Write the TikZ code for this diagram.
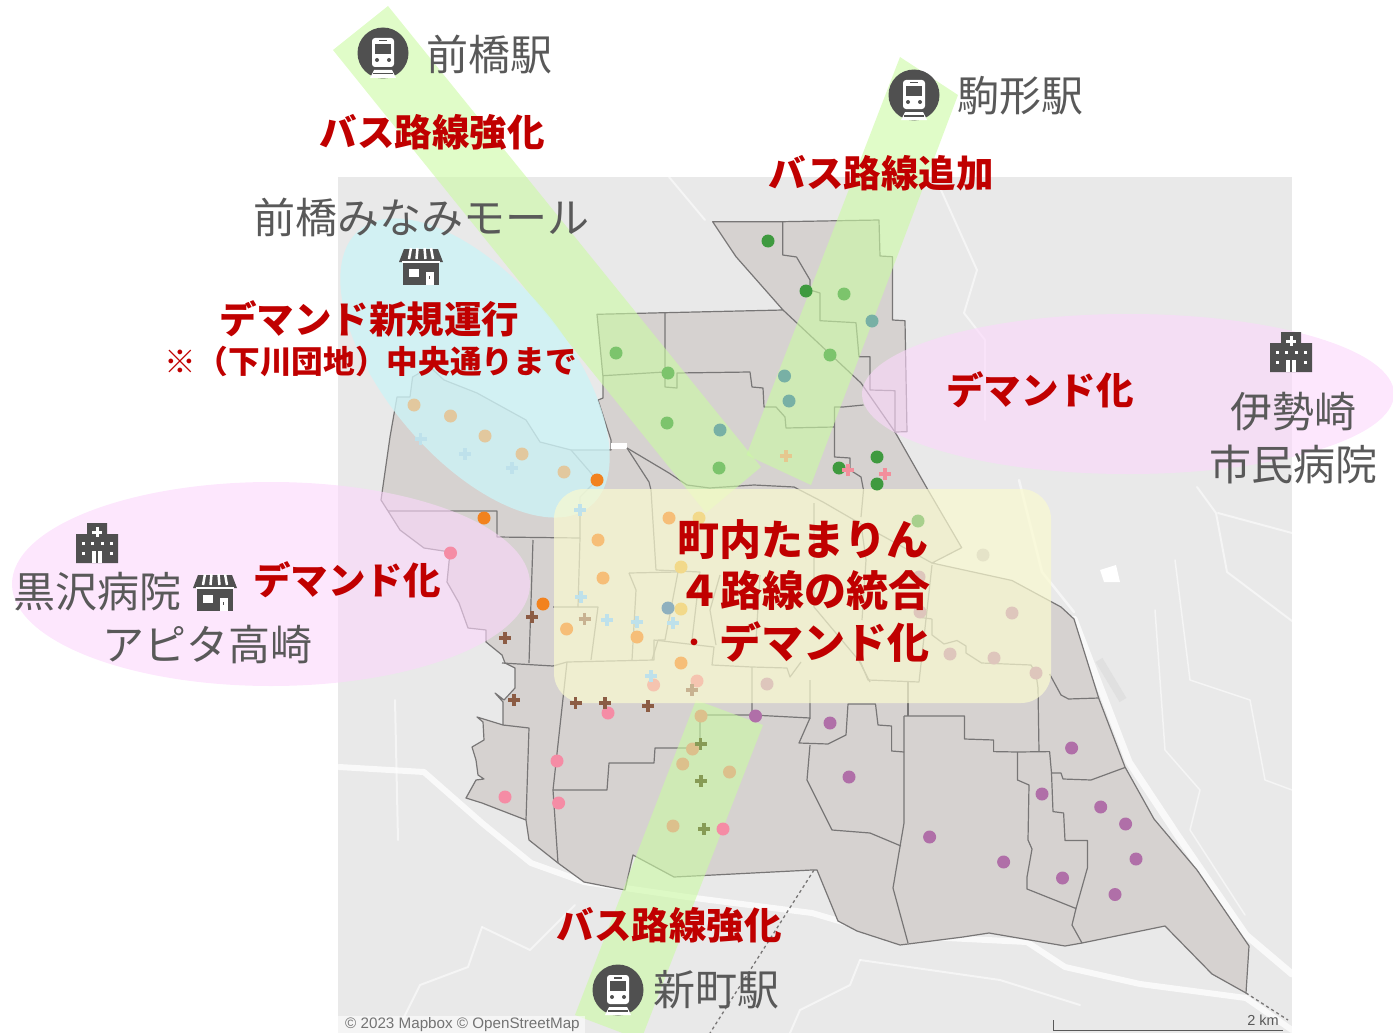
\documentclass[tikz,border=0pt]{standalone}
\usepackage{fontspec}
\setmainfont{Noto Sans CJK JP}
\newfontfamily\mapfont{Liberation Sans}

\definecolor{mapback}{RGB}{233,233,233}
\definecolor{mapland}{RGB}{214,210,208}
\definecolor{mapline}{RGB}{120,118,118}
\definecolor{icondark}{RGB}{80,80,80}
\definecolor{labelgrey}{RGB}{89,89,89}
\definecolor{redtext}{RGB}{192,0,0}
\definecolor{bandgreen}{RGB}{203,250,163}
\definecolor{areacyan}{RGB}{205,243,246}
\definecolor{areapink}{RGB}{252,215,252}
\definecolor{areayellow}{RGB}{250,250,208}
\definecolor{dotgreen}{RGB}{63,154,63}
\definecolor{dotleaf}{RGB}{124,196,108}
\definecolor{dotteal}{RGB}{120,176,165}
\definecolor{dotpalegreen}{RGB}{168,208,141}
\definecolor{dotpaleorange}{RGB}{226,200,158}
\definecolor{dotorange}{RGB}{242,130,30}
\definecolor{dotlight}{RGB}{246,190,120}
\definecolor{dotyellow}{RGB}{242,217,138}
\definecolor{dotslate}{RGB}{143,176,190}
\definecolor{dotpink}{RGB}{245,140,165}
\definecolor{dotblush}{RGB}{245,196,176}
\definecolor{dotmauve}{RGB}{222,198,188}
\definecolor{dotpale}{RGB}{229,227,200}
\definecolor{dotsand}{RGB}{220,192,140}
\definecolor{dotpurple}{RGB}{176,111,168}
\definecolor{plusblue}{RGB}{190,225,235}
\definecolor{plusbrown}{RGB}{140,92,68}
\definecolor{plustan}{RGB}{200,178,145}
\definecolor{plusolive}{RGB}{135,155,85}
\definecolor{pluspink}{RGB}{242,142,155}
\definecolor{plussand}{RGB}{229,200,143}

\tikzset{
  riverline/.style={draw=white,draw opacity=.75,line width=#1,line join=round,line cap=round},
  roadline/.style={draw=white,draw opacity=.55,line width=#1,line join=round,line cap=round},
  distline/.style={draw=mapline,line width=1.2pt,line join=round},
  greenband/.style={fill=bandgreen,fill opacity=.6},
  cyanarea/.style={fill=areacyan,fill opacity=.8},
  pinkarea/.style={fill=areapink,fill opacity=.6},
  yellowarea/.style={fill=areayellow,fill opacity=.7},
  plusmark/.style={line width=3.5pt},
  placelabel/.style={font=\fontsize{42}{50}\selectfont,text=labelgrey,inner sep=0pt},
  redlabel/.style={font=\fontsize{37.5}{45}\bfseries\selectfont,text=redtext,inner sep=0pt},
}

%train icon
\newcommand{\trainicon}[1]{
  \begin{scope}[shift={(#1)}]
    \fill [icondark] (0,0) circle [radius=25.5] ;
    \fill [white,rounded corners=3pt] (-11,-15) rectangle (11,14) ;
    \fill [icondark] (-8,-9) rectangle (8,1) ;
    \fill [icondark] (-4,-13) rectangle (4,-11.5) ;
    \fill [icondark] (-6,7) circle [radius=2] ;
    \fill [icondark] (6,7) circle [radius=2] ;
    \fill [white] (-9,17) -- (9,17) -- (13,25) -- (-13,25) -- cycle ;
    \fill [icondark] (-10,20) rectangle (10,21.5) ;
  \end{scope}
}
%hospital icon
\newcommand{\hospitalicon}[1]{
  \begin{scope}[shift={(#1)}]
    \fill [icondark] (-21,-9) -- (-10,-9) -- (-10,-20) -- (10,-20) -- (10,-9) -- (21,-9) -- (21,20) -- (-21,20) -- cycle ;
    \fill [white] (-1.5,-16) rectangle (1.5,-6) ;
    \fill [white] (-5,-12.5) rectangle (5,-9.5) ;
    \foreach \x in {-14,-5,5,14}
      \fill [white] (\x-1.5,-1) rectangle (\x+1.5,2) ;
    \foreach \x in {-14,14}
      \fill [white] (\x-1.5,9) rectangle (\x+1.5,12) ;
    \fill [white] (-5,8) rectangle (5,20) ;
    \fill [icondark] (-1,8) rectangle (1,20) ;
  \end{scope}
}
%shop icon
\newcommand{\shopicon}[1]{
  \begin{scope}[shift={(#1)}]
    \fill [icondark] (-17,-18) -- (17,-18) -- (22,-5) -- (-22,-5) -- cycle ;
    \foreach \x/\y in {-10/-12,-3.5/-4.5,3.5/4.5,10/12}
      \draw [white,line width=2.5pt] (\x,-19) -- (\y,-8) ;
    \fill [icondark] (-18,-7) rectangle (18,18) ;
    \fill [white] (-19,-6.5) rectangle (19,-4) ;
    \fill [white] (-12,2) rectangle (-2,10) ;
    \fill [white] (5,5) rectangle (13,18) ;
    \fill [icondark] (8,9) rectangle (9,12) ;
  \end{scope}
}

\begin{document}
\begin{tikzpicture}[x=1pt,y=-1pt]
\useasboundingbox (0,0) rectangle (1393,1033) ;

%map background
\fill [mapback] (338,177) rectangle (1292,1033) ;

%roads and rivers
\draw [riverline=6pt] (339,767) -- (424,772) -- (482,823) -- (531,863) -- (584,882) -- (687,897) -- (812,913) -- (887,935) -- (1027,942) -- (1065,967) -- (1140,984) -- (1246,998) -- (1292,1030) ;
\draw [riverline=7pt] (1074,619) -- (1129,762) -- (1178,836) -- (1246,935) -- (1292,974) ;
\draw [roadline=2.5pt] (1019,480) -- (1042,572) -- (1074,612) ;
\draw [roadline=2pt] (669,177) -- (705,220) ;
\draw [roadline=2pt] (941,190) -- (977,270) -- (964,313) -- (985,340) -- (985,420) ;
\draw [roadline=2pt] (1197,487) -- (1216,513) -- (1227,572) -- (1292,621) ;
\draw [roadline=2pt] (1218,513) -- (1292,533) ;
\draw [roadline=1.5pt] (1155,610) -- (1165,750) -- (1200,790) -- (1190,830) -- (1245,915) ;
\draw [roadline=1.5pt] (1175,560) -- (1190,680) -- (1250,700) -- (1265,780) -- (1292,790) ;
\draw [roadline=2pt] (482,927) -- (468,967) -- (420,985) -- (400,1025) ;
\draw [roadline=2pt] (482,927) -- (530,950) -- (575,905) ;
\draw [roadline=2pt] (860,960) -- (850,985) -- (800,1010) -- (790,1033) ;
\draw [roadline=2pt] (860,960) -- (1000,980) -- (1080,1005) ;
\draw [roadline=2pt] (395,700) -- (398,840) ;
\fill [white] (1100,570) -- (1116,565) -- (1120,582) -- (1104,582) -- cycle ;
\draw [line width=8pt,draw=black!12] (1099,660) -- (1123,700) ;
\draw [dashed,line width=1.3pt,draw=mapline] (814,870) -- (710,1033) ;
\draw [dashed,line width=1.3pt,draw=mapline] (1246,993) -- (1288,1020) ;

%map land and outer edge
\path [fill=mapland,distline] (712.6,221.7) -- (782.7,221.7) -- (879,220) -- (880,256) -- (892.5,256.7) -- (892.5,320) -- (905,320.7) -- (907,431.7) -- (895,432)
  -- (928,490) -- (961.7,547.7) -- (932,563) -- (1012,580.5) -- (1061,607) -- (1074,619) -- (1099,699) -- (1125,767) -- (1154,819) -- (1197,870) -- (1249,946)
  -- (1246,993) -- (1212,974) -- (1165,926) -- (1082,943) -- (1065,946) -- (989,933) -- (963,937) -- (908,944) -- (900,945) -- (857,931) -- (838,921) -- (817,870)
  -- (812,870) -- (674,877) -- (633,855) -- (625,890) -- (584,882) -- (558,863) -- (529,840) -- (526,820) -- (482,803) -- (466,798) -- (476,780) -- (484,779) -- (478,775)
  -- (476,760) -- (472,747) -- (484,740) -- (483,722) -- (477,717) -- (503,725) -- (503,702) -- (495,693) -- (504,700) -- (515,688) -- (515,668) -- (505,663) -- (502,655) -- (486,642) -- (486,630)
  -- (468,628) -- (459,603) -- (447,582) -- (450,552) -- (424,548) -- (400,530) -- (388,511) -- (381,500) -- (390,437) -- (397,397) -- (410,397) -- (412.6,377)
  -- (430,367) -- (444,380) -- (477,393) -- (526,420) -- (540,442) -- (571,450) -- (611,450) -- (611,440) -- (598,400) -- (603,398) -- (603,377) -- (597,314.3)
  -- (665,312.7) -- (783,310) -- (736,256.7) -- cycle ;
\fill [white] (611,443) rectangle (627,449) ;

%district lines north
\draw [distline] (782.7,221.7) -- (782.7,255) -- (796.5,257) -- (810,280) -- (810,290) -- (820,293) -- (820,320.7) -- (856,322.7) -- (859,356.7) -- (870,356.7) -- (870,390) -- (895,390.7) -- (895,432) ;
\draw [distline] (783,310) -- (861,383) -- (895,432) ;
\draw [distline] (665,312.7) -- (665,387) -- (677,388) -- (677,373) -- (750,372) -- (752,387) -- (763,388) -- (764,407) -- (776,407) -- (785,417) -- (786,428) -- (834.5,427) -- (834.5,407) -- (843,407) -- (863.5,405) ;
\draw [distline] (603,375.7) -- (665,372) ;
\draw [distline] (834.5,427) -- (834.5,457) -- (850,458) -- (850,470) -- (861,477) -- (863.5,490) -- (861,517) ;
\draw [distline] (627,448) -- (649,482) -- (651,490) -- (656,570) ;
\draw [distline] (627,448) -- (669,473) -- (687,485) -- (709.5,488) -- (754,485) -- (794,487) -- (823,502) -- (861,524) -- (932,563) ;
\draw [distline] (388,511) -- (497,511) -- (497,537) -- (580,538) -- (580,497) -- (597,480) -- (571,450) ;

%district lines middle
\draw [distline] (533,540) -- (531,602) -- (529,663) ;
\draw [distline] (502,663) -- (553,666) -- (567,662) -- (654,660) -- (654,640) -- (714,647) -- (712,665) -- (752,667) -- (787,668) -- (790,677) -- (801,662) ;
\draw [distline] (567,662) -- (553,790) -- (558,863) ;
\draw [distline] (553,607) -- (598,607) -- (591,660) ;
\draw [distline] (580,538) -- (578,607) ;
\draw [distline] (629,573) -- (678,572) -- (665,640) -- (658,640) -- (652,660) ;
\draw [distline] (629,573) -- (636,590) -- (632,660) ;
\draw [distline] (656,570) -- (700,572) -- (692,640) ;
\draw [distline] (720,575) -- (710,610) -- (716,645) ;
\draw [distline] (760,575) -- (756,640) ;
\draw [distline] (814,503) -- (814,607) -- (861,663) -- (868,680) -- (919,682) -- (932,565) ;
\draw [distline] (861,524) -- (866,560) -- (862,620) ;
\draw [distline] (858.6,660) -- (870,682) ;
\draw [distline] (932,619) -- (932,635) -- (944,644) -- (957,640.5) -- (966,646) -- (966,653) -- (981.5,663) -- (1031,665) -- (1036,674) -- (1038,688) -- (1039,751.6) ;
\draw [distline] (921,617.5) -- (932,619) ;
\draw [distline] (1049.6,674) -- (1061,695) -- (1068.5,699) -- (1099,698) ;

%district lines south
\draw [distline] (553,790) -- (607,790) -- (609,763) -- (654,763) -- (655,748) -- (700,748) -- (700,715) -- (752,715) -- (752,667) ;
\draw [distline] (752,715) -- (810,718) -- (810,680) ;
\draw [distline] (810,718) -- (799,743) -- (828,744) -- (846,735) -- (848,704) -- (875.5,704) -- (878,725) -- (891.6,726) -- (891.6,751) -- (904,752) ;
\draw [distline] (810,745) -- (807,780) -- (832,830) -- (870,833) -- (901,846) ;
\draw [distline] (908,682) -- (908,716) ;
\draw [distline] (904,716) -- (964.5,716) -- (964.5,739) -- (993.6,740) -- (993.6,751.6) -- (1017.5,752) -- (1049.6,751.6) -- (1051.5,773) -- (1061,773) -- (1063,779) -- (1091,780) -- (1125,767.5) ;
\draw [distline] (904,716) -- (904,823) -- (893,888) -- (908,943) ;
\draw [distline] (1017.5,752) -- (1017.5,780) -- (1029,785) -- (1028,840) -- (1032,849) -- (1027,877) -- (1027,889) -- (1076,908.5) -- (1087.4,868) -- (1087.4,840.5) -- (1065,840.5) -- (1063.6,813) -- (1053,811.6) -- (1051.5,773) ;
\draw [distline] (1076,908.5) -- (1072,925) -- (1082,943) ;
\draw [distline] (526,820) -- (529,728) -- (503,725) ;

%bus route bands
\fill [greenband] (333,50) -- (388,6) -- (761,467) -- (706,513) -- cycle ;
\fill [greenband] (900,57) -- (958,95) -- (811,485) -- (746.5,455) -- cycle ;
\fill [greenband] (696,700) -- (763,725) -- (641,1040) -- (575,1015) -- cycle ;

%demand areas
\fill [cyanarea] (475,368) circle [x radius=180,y radius=90,rotate=-50] ;
\fill [pinkarea] (271,584) circle [x radius=259,y radius=102] ;
\fill [pinkarea] (1128,394) circle [x radius=266,y radius=80] ;
\fill [yellowarea,rounded corners=30pt] (554,489) rectangle (1051,703) ;

%survey points
\foreach \x/\y in {768/241,806/291,877/457,839/468,877/484}
  \fill [dotgreen] (\x,\y) circle [radius=6.5] ;
\foreach \x/\y in {844/294,616/353,668/373,830/355,667/423,719/468}
  \fill [dotleaf] (\x,\y) circle [radius=6.5] ;
\foreach \x/\y in {784.5/376,789/401,720/430,872/321}
  \fill [dotteal] (\x,\y) circle [radius=6.5] ;
\fill [dotpalegreen] (918,521) circle [radius=6.5] ;
\foreach \x/\y in {414/405,450.5/416,485/436,522/454,564/472}
  \fill [dotpaleorange] (\x,\y) circle [radius=6.5] ;
\foreach \x/\y in {597/480,484/518,543/604}
  \fill [dotorange] (\x,\y) circle [radius=6.5] ;
\foreach \x/\y in {669/518,598/540,603/578,566.6/629,637/637,681/663}
  \fill [dotlight] (\x,\y) circle [radius=6.5] ;
\foreach \x/\y in {699/518,681/567,681/609}
  \fill [dotyellow] (\x,\y) circle [radius=6.5] ;
\fill [dotslate] (668,608) circle [radius=6.5] ;
\foreach \x/\y in {450.5/553,608/713,557/761,505/797,558.6/803,723/829}
  \fill [dotpink] (\x,\y) circle [radius=6.5] ;
\foreach \x/\y in {653.6/685,697/681}
  \fill [dotblush] (\x,\y) circle [radius=6.5] ;
\foreach \x/\y in {767/684,919/577,920/612,1012/613,950/654,994/658,1036/673}
  \fill [dotmauve] (\x,\y) circle [radius=6.5] ;
\fill [dotpale] (983,555) circle [radius=6.5] ;
\foreach \x/\y in {701/716,692.5/749,682.7/764,729.5/772,673/826}
  \fill [dotsand] (\x,\y) circle [radius=6.5] ;
\foreach \x/\y in {755.5/716,830/723,849/777,929.6/837,1003.6/862,1071.6/748,1042/794,1100.7/807,1125.6/824,1136/859,1062.5/878,1115/894.5}
  \fill [dotpurple] (\x,\y) circle [radius=6.5] ;

%plus marks
\foreach \x/\y in {420.6/439,465/454,512/468,580/510,581/597,607/620,637/622,673/623,651/676}
  \draw [plusmark,draw=plusblue,shift={(\x,\y)}] (-6,0) -- (6,0) (0,-6) -- (0,6) ;
\foreach \x/\y in {532/617,505/638,514/700,575.5/703,605/703,648/706}
  \draw [plusmark,draw=plusbrown,shift={(\x,\y)}] (-6,0) -- (6,0) (0,-6) -- (0,6) ;
\foreach \x/\y in {584.5/619,692/690}
  \draw [plusmark,draw=plustan,shift={(\x,\y)}] (-6,0) -- (6,0) (0,-6) -- (0,6) ;
\foreach \x/\y in {700.5/744,701/781,704/829}
  \draw [plusmark,draw=plusolive,shift={(\x,\y)}] (-6,0) -- (6,0) (0,-6) -- (0,6) ;
\foreach \x/\y in {848/470,885/474}
  \draw [plusmark,draw=pluspink,shift={(\x,\y)}] (-6,0) -- (6,0) (0,-6) -- (0,6) ;
\draw [plusmark,draw=plussand,shift={(786,456)}] (-6,0) -- (6,0) (0,-6) -- (0,6) ;

%map credits
\fill [white,fill opacity=.55] (338,1016) rectangle (585,1033) ;
\node [font=\mapfont\fontsize{15.2}{17}\selectfont,text=black!55,inner sep=0pt,anchor=west] (mapcredit) at (345,1025) {© 2023 Mapbox © OpenStreetMap} ;
\node [font=\mapfont\fontsize{14.5}{16}\selectfont,text=black!65,inner sep=0pt] (scalelabel) at (1263,1020) {2 km} ;
\coordinate (scaleleft) at (1053,1020) ;
\coordinate (scalecorner) at (1053,1030) ;
\coordinate (scaleright) at (1283,1030) ;
\draw [draw=black!65,line width=1pt] (scaleleft) -- (scalecorner) -- (scaleright) ;

%icons
\trainicon{383,53}
\trainicon{914,95}
\trainicon{618,990}
\hospitalicon{97,543}
\hospitalicon{1291,352}
\shopicon{421,267}
\shopicon{215,593}

%place labels
\node [placelabel] (maebashi) at (489,55) {前橋駅} ;
\node [placelabel] (komagata) at (1020,96) {駒形駅} ;
\node [placelabel] (shinmachi) at (716,990) {新町駅} ;
\node [placelabel] (mall) at (421,217) {前橋みなみモール} ;
\node [placelabel] (kurosawa) at (97,592) {黒沢病院} ;
\node [placelabel] (apita) at (207,645) {アピタ高崎} ;
\node [placelabel] (isesaki) at (1293,412) {伊勢崎} ;
\node [placelabel] (shimin) at (1293,464) {市民病院} ;

%measure labels
\node [redlabel] (strengthennorth) at (432,132) {バス路線強化} ;
\node [redlabel] (addroute) at (881,173) {バス路線追加} ;
\node [redlabel] (strengthensouth) at (669,925) {バス路線強化} ;
\node [redlabel] (newdemand) at (369,319) {デマンド新規運行} ;
\node [redlabel,font=\fontsize{31.7}{38}\bfseries\selectfont] (newdemandnote) at (371,361) {※（下川団地）中央通りまで} ;
\node [redlabel] (demandeast) at (1040,390) {デマンド化} ;
\node [redlabel] (demandwest) at (347,580) {デマンド化} ;
\node [redlabel,font=\fontsize{42}{50}\bfseries\selectfont] (tamarin) at (803,540) {町内たまりん} ;
\node [redlabel,font=\fontsize{42}{50}\bfseries\selectfont] (merge) at (804,591) {４路線の統合} ;
\node [redlabel,font=\fontsize{42}{50}\bfseries\selectfont,anchor=east] (demandtown) at (930,642) {\raisebox{7pt}{\fontsize{24}{30}\selectfont ・}\hspace{13pt}デマンド化} ;

\end{tikzpicture}
\end{document}
